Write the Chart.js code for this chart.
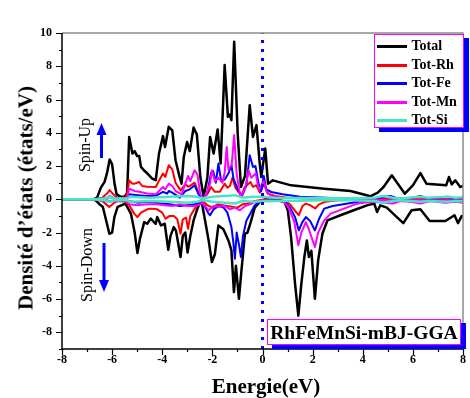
<!DOCTYPE html>
<html>
<head>
<meta charset="utf-8">
<script src="https://cdn.jsdelivr.net/npm/chart.js@4.4.1/dist/chart.umd.min.js"></script>
<style>
  html, body { margin: 0; padding: 0; background: #fff; }
  #wrap { position: relative; width: 470px; height: 398px; overflow: hidden; font-family: "Liberation Serif", "Times New Roman", serif; }
  #c { position: absolute; left: 0; top: 0; }
  .abs { position: absolute; white-space: nowrap; }
  .rot { transform: translate(-50%, -50%) rotate(-90deg); }
  #ytitle { left: 26px; top: 198px; font-weight: bold; font-size: 21px; }
  #xtitle { left: 266px; top: 386px; transform: translate(-50%, -50%); font-weight: bold; font-size: 21px; }
  #spinUp { left: 85px; top: 145px; font-size: 16px; }
  #spinDown { left: 87px; top: 265px; font-size: 16px; }
  #legend { left: 374px; top: 34px; width: 88px; height: 92px; border: 1.5px solid #ff00ff; background: #fff; box-shadow: 5px 4px 0 #0000ff; }
  .li { position: absolute; left: 1.5px; height: 18px; }
  .li span.ln { position: absolute; left: 0; top: 8px; width: 30px; height: 3px; }
  .li span.tx { position: absolute; left: 35px; top: 0; font-weight: bold; font-size: 14px; line-height: 18px; }
  #tag { left: 267px; top: 319px; width: 192px; height: 24px; border: 1.5px solid #ff00ff; background: #fff; box-shadow: 5px 4px 0 #0000ff; font-weight: bold; font-size: 19.5px; line-height: 25px; text-align: center; }
</style>
</head>
<body>
<div id="wrap">
  <canvas id="c" width="470" height="398"></canvas>
  <div id="ytitle" class="abs rot">Densité d’états (états/eV)</div>
  <div id="xtitle" class="abs">Energie(eV)</div>
  <div id="spinUp" class="abs rot">Spin-Up</div>
  <div id="spinDown" class="abs rot">Spin-Down</div>
  <svg class="abs" style="left:0;top:0" width="470" height="398">
    <line x1="101.5" y1="158" x2="101.5" y2="133" stroke="#0000ff" stroke-width="3"/>
    <polygon points="96.5,135 106.5,135 101.5,123" fill="#0000ff"/>
    <line x1="104" y1="243" x2="104" y2="282" stroke="#0000ff" stroke-width="3"/>
    <polygon points="99,280 109,280 104,292" fill="#0000ff"/>
  </svg>
  <div id="legend" class="abs"></div>
  <div id="tag" class="abs">RhFeMnSi-mBJ-GGA</div>
</div>
<script>
// ---------------- data ----------------
const seriesNames = ["Total", "Tot-Rh", "Tot-Fe", "Tot-Mn", "Tot-Si"];
const xTickLabels = [-8, -6, -4, -2, 0, 2, 4, 6, 8];
const yTickLabels = [-8, -6, -4, -2, 0, 2, 4, 6, 8, 10];

const totalUp = [[-8,0],[-6.75,0],[-6.6,0.1],[-6.45,0.7],[-6.3,1.05],[-6.2,1.6],[-6.1,2.4],[-6.0,2.1],[-5.9,0.9],[-5.82,0.3],[-5.65,0.15],[-5.5,0.15],[-5.4,0.4],[-5.32,3.75],[-5.19,2.75],[-5.1,2.9],[-5.0,2.6],[-4.92,2.6],[-4.85,1.95],[-4.7,1.7],[-4.59,1.55],[-4.4,1.25],[-4.26,1.15],[-4.13,2.75],[-3.97,3.8],[-3.89,3.15],[-3.74,4.36],[-3.6,4.15],[-3.47,2.35],[-3.3,1.3],[-3.23,0.94],[-3.14,2.55],[-3.01,3.45],[-2.9,2.9],[-2.75,4.32],[-2.62,3.9],[-2.48,1.34],[-2.35,0.12],[-2.2,1.3],[-2.09,3.75],[-1.95,2.75],[-1.79,4.2],[-1.67,2.15],[-1.51,8.07],[-1.38,4.96],[-1.31,5.1],[-1.24,4.76],[-1.13,9.48],[-0.99,3.96],[-0.86,0.74],[-0.7,1.4],[-0.51,5.66],[-0.38,3.75],[-0.24,4.46],[-0.11,2.15],[-0.05,1.34],[0.11,3.05],[0.22,0.94],[0.41,1.14],[1.14,0.84],[2.46,0.64],[3.51,0.5],[4.3,0.18],[4.6,0.4],[4.83,0.74],[5.16,1.45],[5.3,1.15],[5.68,0.34],[6.0,0.84],[6.3,1.58],[6.54,0.94],[7.33,0.84],[7.44,1.34],[7.55,0.9],[7.69,1.14],[7.89,0.74],[8,0.8]];
const totalDown = [[-8,0],[-6.75,0],[-6.63,-0.1],[-6.5,-0.3],[-6.37,-0.46],[-6.25,-1.2],[-6.11,-2.07],[-6.0,-2.0],[-5.91,-1.07],[-5.78,-0.46],[-5.47,-0.26],[-5.25,-0.86],[-5.1,-2.0],[-4.99,-3.23],[-4.89,-2.37],[-4.72,-1.37],[-4.6,-1.47],[-4.46,-1.16],[-4.26,-1.47],[-4.2,-1.06],[-4.05,-1.57],[-3.9,-1.47],[-3.76,-3.03],[-3.67,-2.2],[-3.54,-1.67],[-3.45,-1.9],[-3.27,-3.47],[-3.18,-2.2],[-3.08,-2.0],[-2.99,-3.2],[-2.88,-2.2],[-2.75,-1.27],[-2.62,-0.66],[-2.5,-0.2],[-2.44,-0.06],[-2.3,-1.2],[-2.15,-2.47],[-2.02,-3.77],[-1.9,-3.3],[-1.76,-1.57],[-1.56,-1.8],[-1.36,-2.47],[-1.24,-3.07],[-1.14,-5.58],[-1.06,-4.0],[-0.94,-5.98],[-0.84,-4.28],[-0.7,-2.07],[-0.6,-2.0],[-0.47,-1.37],[-0.31,-0.5],[-0.11,-0.16],[0.1,0],[0.6,-0.05],[0.88,-0.16],[1.01,-0.66],[1.14,-2.27],[1.3,-5.08],[1.43,-7.0],[1.55,-5.08],[1.67,-3.47],[1.77,-2.47],[1.85,-3.47],[1.95,-3.1],[2.09,-5.98],[2.22,-3.67],[2.39,-2.07],[2.59,-1.27],[3.11,-0.96],[3.64,-0.66],[4.17,-0.36],[4.46,-0.26],[4.57,-0.76],[4.7,-0.36],[4.96,-0.5],[5.36,-1.07],[5.62,-1.43],[5.95,-0.66],[6.3,-0.6],[6.67,-1.3],[7.3,-1.3],[7.66,-0.96],[7.8,-1.43],[7.95,-1.0],[8,-1.0]];

const rhUp = [[-8,0],[-6.7,0],[-6.4,0.1],[-6.2,0.35],[-6.1,0.55],[-5.95,0.3],[-5.8,0.1],[-5.45,0.1],[-5.38,0.5],[-5.32,1.14],[-5.2,0.95],[-5.12,0.94],[-4.92,1.04],[-4.8,0.8],[-4.6,0.75],[-4.26,0.74],[-4.1,1.2],[-3.97,1.55],[-3.88,1.35],[-3.74,2.05],[-3.6,1.8],[-3.47,1.0],[-3.27,0.54],[-3.08,0.9],[-2.95,0.75],[-2.85,0.85],[-2.71,1.0],[-2.55,0.4],[-2.4,0.05],[-2.2,0.3],[-2.05,0.74],[-1.9,0.45],[-1.7,0.45],[-1.51,0.94],[-1.4,0.7],[-1.3,0.8],[-1.2,1.3],[-1.08,0.7],[-0.85,0.2],[-0.71,0.74],[-0.48,1.04],[-0.38,0.75],[-0.25,0.85],[-0.1,0.4],[0.05,0.95],[0.2,0.35],[0.5,0.2],[1.0,0.1],[2.0,0.05],[3.0,0.05],[4.0,0.02],[5.0,0.02],[6.0,0.02],[7.0,0.02],[8,0.02]];
const rhDown = [[-8,0],[-6.7,0],[-6.4,-0.1],[-6.2,-0.35],[-6.11,-0.46],[-5.95,-0.25],[-5.8,-0.1],[-5.45,-0.15],[-5.3,-0.4],[-5.12,-0.86],[-4.99,-1.07],[-4.85,-0.8],[-4.6,-0.6],[-4.46,-0.56],[-4.2,-0.6],[-4.0,-0.8],[-3.87,-1.16],[-3.7,-1.0],[-3.54,-1.0],[-3.4,-1.2],[-3.27,-2.07],[-3.18,-1.2],[-3.05,-1.1],[-2.97,-1.77],[-2.88,-1.0],[-2.72,-0.6],[-2.55,-0.2],[-2.4,-0.1],[-2.2,-0.35],[-2.0,-0.5],[-1.8,-0.3],[-1.6,-0.35],[-1.4,-0.4],[-1.2,-0.45],[-1.0,-0.5],[-0.8,-0.3],[-0.6,-0.25],[-0.3,-0.1],[0,-0.02],[0.7,-0.02],[0.95,-0.15],[1.1,-0.3],[1.3,-0.7],[1.45,-0.95],[1.6,-0.4],[1.73,-0.26],[1.9,-0.35],[2.1,-0.55],[2.25,-0.3],[2.5,-0.15],[3,-0.05],[4,-0.02],[5,-0.02],[6,-0.02],[8,-0.02]];

const feUp = [[-8,0],[-6.7,0],[-6.2,0.05],[-6.1,0.15],[-5.9,0.05],[-5.4,0.05],[-5.32,0.3],[-5.0,0.25],[-4.6,0.2],[-4.26,0.2],[-3.97,0.45],[-3.8,0.35],[-3.74,0.5],[-3.6,0.4],[-3.3,0.1],[-3.08,0.5],[-2.9,0.6],[-2.71,0.84],[-2.55,0.3],[-2.4,0.05],[-2.2,0.4],[-2.05,1.6],[-1.97,1.7],[-1.86,1.0],[-1.76,2.15],[-1.65,1.1],[-1.5,1.2],[-1.36,1.55],[-1.24,2.05],[-1.15,1.2],[-0.95,0.5],[-0.82,0.2],[-0.65,0.8],[-0.51,2.65],[-0.38,1.95],[-0.28,2.0],[-0.15,0.9],[-0.05,0.5],[0.05,1.4],[0.15,0.6],[0.35,0.44],[0.8,0.3],[1.5,0.15],[2.5,0.1],[3.5,0.05],[4.5,0.05],[5.1,0.2],[5.4,0.05],[6.0,0.1],[6.3,0.2],[6.6,0.05],[7.4,0.15],[7.6,0.05],[8,0.1]];
const feDown = [[-8,0],[-6.7,0],[-6.1,-0.1],[-5.5,-0.05],[-5.0,-0.2],[-4.6,-0.15],[-4.0,-0.25],[-3.7,-0.3],[-3.3,-0.4],[-3.0,-0.35],[-2.7,-0.3],[-2.5,-0.15],[-2.35,-0.3],[-2.15,-0.86],[-2.09,-0.96],[-1.95,-0.6],[-1.75,-0.4],[-1.55,-0.5],[-1.4,-0.8],[-1.24,-1.67],[-1.17,-2.5],[-1.1,-3.57],[-1.03,-2.0],[-0.93,-2.8],[-0.86,-3.47],[-0.78,-2.2],[-0.64,-1.27],[-0.5,-0.9],[-0.31,-0.36],[-0.1,-0.1],[0.5,-0.05],[0.9,-0.15],[1.1,-0.5],[1.3,-1.07],[1.45,-1.87],[1.58,-1.4],[1.73,-1.07],[1.9,-1.3],[2.09,-1.87],[2.25,-1.2],[2.46,-0.56],[2.8,-0.4],[3.4,-0.25],[4.0,-0.1],[5.0,-0.05],[5.3,-0.15],[5.6,-0.05],[6.2,-0.1],[7.0,-0.05],[8,-0.05]];

const mnUp = [[-8,0],[-6.7,0],[-6.2,0.1],[-6.1,0.2],[-5.9,0.05],[-5.4,0.05],[-5.32,0.64],[-5.1,0.5],[-4.92,0.45],[-4.6,0.35],[-4.26,0.3],[-3.97,0.74],[-3.88,0.6],[-3.74,0.94],[-3.6,0.8],[-3.47,0.5],[-3.23,0.3],[-3.08,0.94],[-2.97,1.4],[-2.88,1.1],[-2.71,1.75],[-2.6,1.5],[-2.48,0.3],[-2.35,0.0],[-2.2,0.5],[-2.09,0.94],[-2.02,1.75],[-1.9,1.1],[-1.76,1.3],[-1.6,1.0],[-1.51,1.6],[-1.43,3.15],[-1.36,1.8],[-1.23,2.05],[-1.13,3.86],[-1.03,1.5],[-0.88,0.15],[-0.7,0.6],[-0.55,1.75],[-0.45,1.3],[-0.27,1.55],[-0.15,0.6],[-0.05,0.8],[0.05,1.1],[0.15,0.5],[0.35,0.2],[0.8,0.1],[2,0.05],[3,0.05],[4,0.02],[5,-0.05],[5.5,-0.05],[8,-0.05]];
const mnDown = [[-8,0],[-6.7,0],[-6.1,-0.15],[-5.5,-0.05],[-5.3,-0.3],[-5.0,-0.35],[-4.6,-0.3],[-4.2,-0.3],[-3.9,-0.35],[-3.6,-0.4],[-3.3,-0.3],[-3.0,-0.4],[-2.75,-0.4],[-2.55,-0.36],[-2.4,-0.2],[-2.15,-0.66],[-1.95,-0.4],[-1.75,-0.45],[-1.5,-0.4],[-1.3,-0.6],[-1.1,-0.5],[-0.9,-0.66],[-0.7,-0.4],[-0.5,-0.3],[-0.3,-0.15],[0,-0.05],[0.8,-0.1],[1.0,-0.4],[1.15,-0.9],[1.27,-1.37],[1.43,-2.77],[1.55,-2.0],[1.73,-1.37],[1.85,-1.8],[2.09,-2.87],[2.22,-2.0],[2.46,-1.27],[2.72,-0.86],[3.25,-0.56],[3.77,-0.26],[4.3,-0.15],[4.9,-0.2],[5.2,-0.25],[5.5,-0.1],[5.9,-0.15],[6.3,-0.25],[6.7,-0.1],[7.3,-0.2],[7.7,-0.15],[8,-0.2]];

const siUp = [[-8,0],[-6.7,0],[-6.3,0.05],[-6.1,0.15],[-5.9,0.05],[-5.4,0.05],[-5.3,0.15],[-4.5,0.1],[-3.7,0.15],[-3.0,0.2],[-2.6,0.15],[-2.4,0.05],[-2.0,0.15],[-1.5,0.2],[-1.1,0.25],[-0.8,0.1],[-0.4,0.15],[0,0.15],[0.5,0.1],[1.5,0.08],[2.5,0.06],[3.5,0.06],[4.5,0.1],[4.8,0.2],[5.2,0.1],[5.5,0.05],[6.3,0.15],[6.6,0.1],[7.4,0.15],[7.7,0.1],[8,0.12]];
const siDown = [[-8,0],[-6.7,0],[-6.3,-0.05],[-6.1,-0.15],[-5.9,-0.05],[-5.4,-0.05],[-5.3,-0.15],[-4.5,-0.1],[-3.7,-0.15],[-3.0,-0.2],[-2.6,-0.15],[-2.4,-0.05],[-2.0,-0.15],[-1.5,-0.2],[-1.1,-0.25],[-0.8,-0.1],[-0.4,-0.15],[0,-0.12],[0.5,-0.1],[1.5,-0.08],[2.5,-0.06],[3.5,-0.06],[4.5,-0.1],[4.8,-0.2],[5.2,-0.1],[5.5,-0.05],[6.3,-0.15],[6.6,-0.1],[7.4,-0.15],[7.7,-0.1],[8,-0.12]];

const fermiLevel = [[0,-9],[0,10]];

// ---------------- styles ----------------
const colors = ["#000000", "#ff0000", "#0000ff", "#ff00ff", "#48e4c4"];
const widths = [2.5, 2, 2, 2, 2.5];

const pts = a => a.map(p => ({x: p[0], y: p[1]}));
const pairs = [[totalUp, totalDown], [rhUp, rhDown], [feUp, feDown], [mnUp, mnDown], [siUp, siDown]];
const datasets = [];
pairs.forEach((pr, i) => {
  pr.forEach(arr => {
    datasets.push({
      label: seriesNames[i], data: pts(arr), showLine: true, pointRadius: 0,
      borderColor: colors[i], borderWidth: widths[i], tension: 0, fill: false,
      order: 10 - i, borderJoinStyle: 'round', borderCapStyle: 'round'
    });
  });
});
datasets.push({ label: 'EF', data: pts(fermiLevel), showLine: true, pointRadius: 0,
  borderColor: '#0000ff', borderWidth: 3, borderDash: [3, 6], order: 0 });

// legend (HTML)
const lg = document.getElementById('legend');
seriesNames.forEach((n, i) => {
  const d = document.createElement('div');
  d.className = 'li';
  d.style.top = (2 + i * 18.5) + 'px';
  d.innerHTML = '<span class="ln" style="background:' + colors[i] + '"></span><span class="tx">' + n + '</span>';
  lg.appendChild(d);
});

// custom tick marks + frame
const frame = {
  id: 'frame',
  afterDraw(chart) {
    const {ctx, chartArea: a, scales: {x, y}} = chart;
    ctx.save();
    ctx.strokeStyle = '#8c8c8c'; ctx.lineWidth = 1.5;
    ctx.beginPath(); ctx.moveTo(a.left, a.top); ctx.lineTo(a.right, a.top); ctx.lineTo(a.right, a.bottom); ctx.stroke();
    ctx.strokeStyle = '#000'; ctx.lineWidth = 1.5;
    ctx.beginPath(); ctx.moveTo(a.left, a.top); ctx.lineTo(a.left, a.bottom); ctx.lineTo(a.right, a.bottom); ctx.stroke();
    ctx.lineWidth = 1.2;
    ctx.beginPath();
    for (let v = y.min; v <= y.max; v++) {
      const p = Math.round(y.getPixelForValue(v)) + 0.5;
      const len = (v % 2 === 0) ? 6 : 3;
      ctx.moveTo(a.left, p); ctx.lineTo(a.left - len, p);
    }
    for (let v = x.min; v <= x.max; v++) {
      const p = Math.round(x.getPixelForValue(v)) + 0.5;
      const len = (v % 2 === 0) ? 6 : 3;
      ctx.moveTo(p, a.bottom); ctx.lineTo(p, a.bottom + len);
    }
    ctx.stroke();
    ctx.restore();
  }
};

Chart.defaults.font.family = '"Liberation Serif", "Times New Roman", serif';
new Chart(document.getElementById('c'), {
  type: 'scatter',
  data: { datasets },
  options: {
    responsive: false, animation: false, devicePixelRatio: 1,
    layout: { padding: { left: 0, top: 33, right: 3, bottom: 0 } },
    plugins: { legend: { display: false }, tooltip: { enabled: false } },
    scales: {
      x: {
        type: 'linear', min: -8, max: 8,
        afterFit: s => { s.height = 49; },
        grid: { display: false, drawTicks: false },
        border: { display: false },
        ticks: { stepSize: 1, padding: 4, color: '#000', font: { size: 12, weight: 'bold' },
          maxRotation: 0, autoSkip: false,
          callback: v => xTickLabels.includes(v) ? String(v) : '' }
      },
      y: {
        type: 'linear', min: -9, max: 10,
        afterFit: s => { s.width = 62; },
        grid: { display: false, drawTicks: false },
        border: { display: false },
        ticks: { stepSize: 1, padding: 10, color: '#000', font: { size: 12, weight: 'bold' },
          autoSkip: false,
          callback: v => yTickLabels.includes(v) ? String(v) : '' }
      }
    }
  },
  plugins: [frame]
});
</script>
</body>
</html>
